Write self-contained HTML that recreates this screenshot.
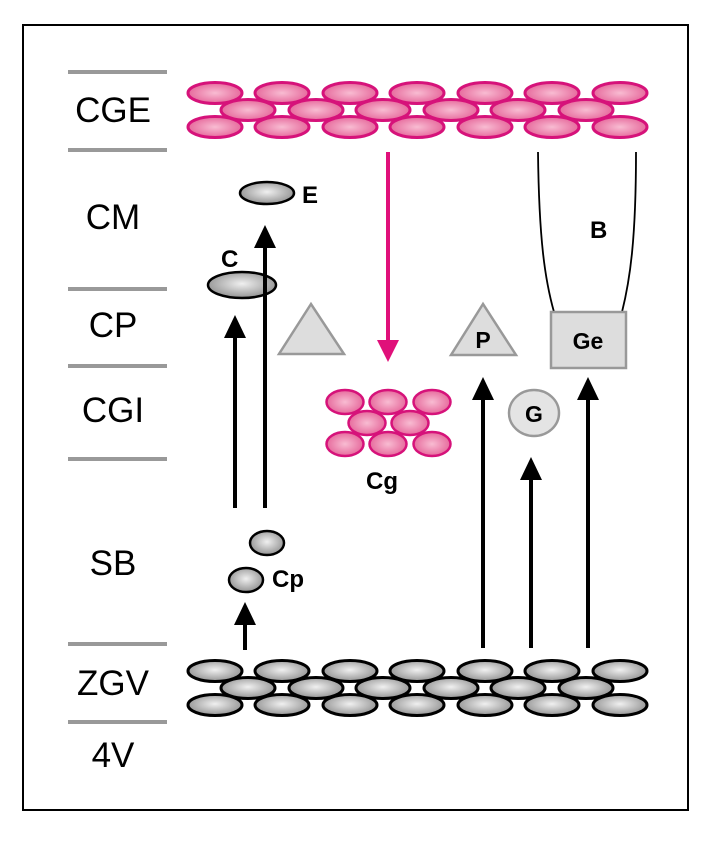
<!DOCTYPE html>
<html><head><meta charset="utf-8"><style>
html,body{margin:0;padding:0;background:#fff;}
svg{display:block;}
text{font-family:"Liberation Sans",Arial,sans-serif;}
</style></head><body>
<svg width="716" height="844" viewBox="0 0 716 844" xmlns="http://www.w3.org/2000/svg">
<defs>
<radialGradient id="pk" cx="0.5" cy="0.5" r="0.6"><stop offset="0" stop-color="#f8bcd2"/><stop offset="1" stop-color="#e35a92"/></radialGradient>
<radialGradient id="gy" cx="0.5" cy="0.45" r="0.6"><stop offset="0" stop-color="#f0f0f0"/><stop offset="1" stop-color="#8a8a8a"/></radialGradient>
</defs>
<rect x="23" y="25" width="665" height="785" fill="#fff" stroke="#000" stroke-width="2"/>
<g stroke="#999" stroke-width="4">
<line x1="68" y1="72" x2="167" y2="72"/><line x1="68" y1="150" x2="167" y2="150"/>
<line x1="68" y1="289" x2="167" y2="289"/><line x1="68" y1="366" x2="167" y2="366"/>
<line x1="68" y1="459" x2="167" y2="459"/><line x1="68" y1="644" x2="167" y2="644"/>
<line x1="68" y1="722" x2="167" y2="722"/>
</g>
<g font-size="35" text-anchor="middle" fill="#000">
<text x="113" y="122">CGE</text><text x="113" y="229">CM</text><text x="113" y="337">CP</text>
<text x="113" y="422">CGI</text><text x="113" y="575">SB</text><text x="113" y="695">ZGV</text><text x="113" y="767">4V</text>
</g>
<g fill="url(#pk)" stroke="#d6127a" stroke-width="3">
<ellipse cx="215" cy="93" rx="27" ry="10.5"/><ellipse cx="282" cy="93" rx="27" ry="10.5"/><ellipse cx="350" cy="93" rx="27" ry="10.5"/><ellipse cx="417" cy="93" rx="27" ry="10.5"/><ellipse cx="485" cy="93" rx="27" ry="10.5"/><ellipse cx="552" cy="93" rx="27" ry="10.5"/><ellipse cx="620" cy="93" rx="27" ry="10.5"/>
<ellipse cx="248" cy="110" rx="27" ry="10.5"/><ellipse cx="316" cy="110" rx="27" ry="10.5"/><ellipse cx="383" cy="110" rx="27" ry="10.5"/><ellipse cx="451" cy="110" rx="27" ry="10.5"/><ellipse cx="518" cy="110" rx="27" ry="10.5"/><ellipse cx="586" cy="110" rx="27" ry="10.5"/>
<ellipse cx="215" cy="127" rx="27" ry="10.5"/><ellipse cx="282" cy="127" rx="27" ry="10.5"/><ellipse cx="350" cy="127" rx="27" ry="10.5"/><ellipse cx="417" cy="127" rx="27" ry="10.5"/><ellipse cx="485" cy="127" rx="27" ry="10.5"/><ellipse cx="552" cy="127" rx="27" ry="10.5"/><ellipse cx="620" cy="127" rx="27" ry="10.5"/>
</g>
<g fill="url(#gy)" stroke="#000" stroke-width="3">
<ellipse cx="215" cy="671" rx="27" ry="10.5"/><ellipse cx="282" cy="671" rx="27" ry="10.5"/><ellipse cx="350" cy="671" rx="27" ry="10.5"/><ellipse cx="417" cy="671" rx="27" ry="10.5"/><ellipse cx="485" cy="671" rx="27" ry="10.5"/><ellipse cx="552" cy="671" rx="27" ry="10.5"/><ellipse cx="620" cy="671" rx="27" ry="10.5"/>
<ellipse cx="248" cy="688" rx="27" ry="10.5"/><ellipse cx="316" cy="688" rx="27" ry="10.5"/><ellipse cx="383" cy="688" rx="27" ry="10.5"/><ellipse cx="451" cy="688" rx="27" ry="10.5"/><ellipse cx="518" cy="688" rx="27" ry="10.5"/><ellipse cx="586" cy="688" rx="27" ry="10.5"/>
<ellipse cx="215" cy="705" rx="27" ry="10.5"/><ellipse cx="282" cy="705" rx="27" ry="10.5"/><ellipse cx="350" cy="705" rx="27" ry="10.5"/><ellipse cx="417" cy="705" rx="27" ry="10.5"/><ellipse cx="485" cy="705" rx="27" ry="10.5"/><ellipse cx="552" cy="705" rx="27" ry="10.5"/><ellipse cx="620" cy="705" rx="27" ry="10.5"/>
</g>
<g stroke="#000" stroke-width="4">
<line x1="265" y1="508" x2="265" y2="244"/><line x1="235" y1="508" x2="235" y2="336"/>
<line x1="245" y1="650" x2="245" y2="620"/>
<line x1="483" y1="648" x2="483" y2="396"/><line x1="531" y1="648" x2="531" y2="476"/><line x1="588" y1="648" x2="588" y2="396"/>
</g>
<g fill="#000">
<polygon points="265,225 254,248 276,248"/><polygon points="235,315 224,338 246,338"/>
<polygon points="245,602 234,625 256,625"/>
<polygon points="483,377 472,400 494,400"/><polygon points="531,457 520,480 542,480"/><polygon points="588,377 577,400 599,400"/>
</g>
<g fill="url(#gy)" stroke="#000" stroke-width="2.5">
<ellipse cx="267" cy="193" rx="27" ry="11"/>
<ellipse cx="242" cy="285" rx="34" ry="13"/>
<ellipse cx="267" cy="543" rx="17" ry="12"/><ellipse cx="246" cy="580" rx="17" ry="12"/>
</g>
<line x1="265" y1="272" x2="265" y2="300" stroke="#000" stroke-width="4"/>
<g font-size="24" font-weight="bold" fill="#000">
<text x="302" y="203">E</text><text x="221" y="267">C</text><text x="272" y="587">Cp</text>
<text x="366" y="489">Cg</text><text x="590" y="238">B</text>
</g>
<polygon points="311,304 279,354 344,354" fill="#ddd" stroke="#999" stroke-width="2.5"/>
<polygon points="483,304 451,355 516,355" fill="#ddd" stroke="#999" stroke-width="2.5"/>
<text x="483" y="348" font-size="23" font-weight="bold" text-anchor="middle">P</text>
<line x1="388" y1="152" x2="388" y2="342" stroke="#e0107a" stroke-width="4"/>
<polygon points="388,362 377,340 399,340" fill="#e0107a"/>
<g fill="url(#pk)" stroke="#d6127a" stroke-width="2.5">
<ellipse cx="345" cy="402" rx="18.5" ry="12"/><ellipse cx="388" cy="402" rx="18.5" ry="12"/><ellipse cx="432" cy="402" rx="18.5" ry="12"/>
<ellipse cx="367" cy="423" rx="18.5" ry="12"/><ellipse cx="410" cy="423" rx="18.5" ry="12"/>
<ellipse cx="345" cy="444" rx="18.5" ry="12"/><ellipse cx="388" cy="444" rx="18.5" ry="12"/><ellipse cx="432" cy="444" rx="18.5" ry="12"/>
</g>
<path d="M538,152 C539,240 545,280 554,312" fill="none" stroke="#000" stroke-width="1.8"/>
<path d="M636,152 C636,240 630,280 622,312" fill="none" stroke="#000" stroke-width="1.8"/>
<rect x="551" y="312" width="75" height="56" fill="#ddd" stroke="#999" stroke-width="2.5"/>
<text x="588" y="349" font-size="23" font-weight="bold" text-anchor="middle">Ge</text>
<ellipse cx="534" cy="413" rx="25" ry="23" fill="#e4e4e4" stroke="#999" stroke-width="2.5"/>
<text x="534" y="422" font-size="23" font-weight="bold" text-anchor="middle">G</text>
</svg>
</body></html>
